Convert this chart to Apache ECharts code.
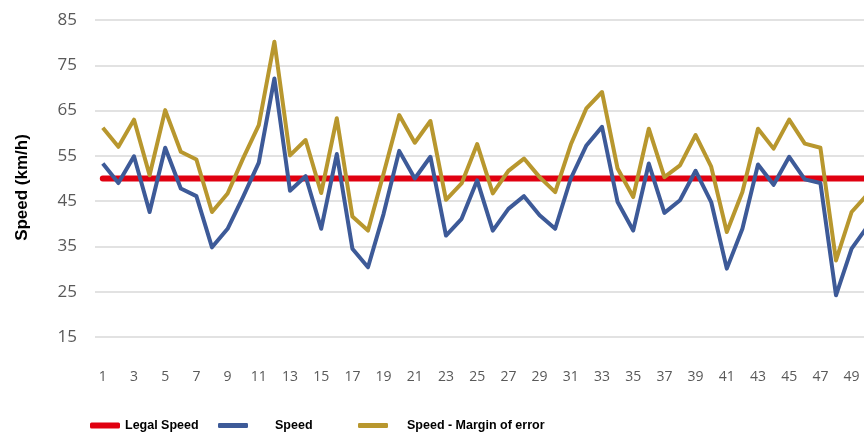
<!DOCTYPE html>
<html>
<head>
<meta charset="utf-8">
<script src="https://cdn.jsdelivr.net/npm/echarts@6/dist/echarts.min.js"></script>
<style>
  html, body { margin: 0; padding: 0; background: #fff; }
  #chart { width: 864px; height: 435px; }
</style>
</head>
<body>
<div id="chart"></div>
<script>
// observation number 1..50
const categories = ['1','2','3','4','5','6','7','8','9','10','11','12','13','14','15','16','17','18','19','20',
  '21','22','23','24','25','26','27','28','29','30','31','32','33','34','35','36','37','38','39','40',
  '41','42','43','44','45','46','47','48','49','50'];

const legalSpeed = [50,50,50,50,50,50,50,50,50,50,50,50,50,50,50,50,50,50,50,50,
  50,50,50,50,50,50,50,50,50,50,50,50,50,50,50,50,50,50,50,50,
  50,50,50,50,50,50,50,50,50,50];

const speed = [53.3,49.0,54.9,42.6,56.8,47.8,46.1,34.8,38.9,46.0,53.5,72.1,47.3,50.5,38.9,55.4,34.5,30.4,42.2,56.1,
  50.0,54.8,37.4,41.1,49.6,38.5,43.3,46.1,41.9,38.9,50.0,57.3,61.4,44.8,38.5,53.3,42.4,45.2,51.7,44.8,
  30.1,38.9,53.1,48.6,54.8,49.8,49.0,24.2,34.5,39.3];

const speedMargin = [61.2,57.0,63.0,50.7,65.1,55.9,54.2,42.6,46.7,54.5,61.8,80.2,55.1,58.5,46.8,63.3,41.6,38.5,51.1,64.0,
  57.9,62.7,45.3,48.9,57.6,46.7,51.7,54.4,50.3,47.0,57.5,65.5,69.1,52.2,45.9,61.0,50.3,52.9,59.6,52.6,
  38.2,47.0,61.0,56.6,63.0,57.7,56.8,31.9,42.6,46.4];

const yMin = 15, yMax = 85, yStep = 10;

const chart = echarts.init(document.getElementById('chart'));

const legendText = {
    fontFamily: '"Liberation Sans", Arial, sans-serif',
    fontWeight: 'bold',
    fontSize: 12.5,
    color: '#000'
};

const option = {
    backgroundColor: '#ffffff',
    animation: false,
    grid: {
        left: 95,
        top: 20,
        width: 780,
        height: 317,
        outerBoundsMode: 'none'
    },
    legend: [
        { left: 90, top: 419, padding: 0, data: ['Legal Speed'], icon: 'roundRect', itemWidth: 30, itemHeight: 6, textStyle: legendText },
        { left: 218, top: 419, padding: 0, data: ['Speed'], icon: 'roundRect', itemWidth: 30, itemHeight: 5, textStyle: Object.assign({}, legendText, { padding: [0, 0, 0, 22] }) },
        { left: 358, top: 419, padding: 0, data: ['Speed - Margin of error'], icon: 'roundRect', itemWidth: 30, itemHeight: 5, textStyle: Object.assign({}, legendText, { padding: [0, 0, 0, 14] }) }
    ],
    xAxis: {
        type: 'category',
        data: categories,
        boundaryGap: true,
        axisLine: { show: false },
        axisTick: { show: false },
        axisLabel: {
            interval: 1,
            margin: 33,
            color: '#595959',
            fontSize: 14,
            fontFamily: '"Open Sans", sans-serif'
        }
    },
    yAxis: {
        type: 'value',
        min: yMin,
        max: yMax,
        interval: yStep,
        name: 'Speed (km/h)',
        nameLocation: 'middle',
        nameGap: 64,
        nameTextStyle: {
            fontFamily: '"Liberation Sans", Arial, sans-serif',
            fontWeight: 'bold',
            fontSize: 17,
            color: '#000',
            padding: [0, 18, 0, 0]
        },
        axisLine: { show: false },
        axisTick: { show: false },
        axisLabel: {
            margin: 18,
            color: '#595959',
            fontSize: 17,
            fontFamily: '"Open Sans", sans-serif'
        },
        splitLine: { lineStyle: { color: '#d9d9d9', width: 1.5 } }
    },
    series: [
        {
            name: 'Legal Speed',
            type: 'line',
            data: legalSpeed,
            symbol: 'none',
            z: 3,
            lineStyle: { color: '#e00010', width: 6, cap: 'round' },
            itemStyle: { color: '#e00010' }
        },
        {
            name: 'Speed',
            type: 'line',
            data: speed,
            symbol: 'none',
            z: 4,
            lineStyle: { color: '#3d5a98', width: 4, join: 'round' },
            itemStyle: { color: '#3d5a98' }
        },
        {
            name: 'Speed - Margin of error',
            type: 'line',
            data: speedMargin,
            symbol: 'none',
            z: 5,
            lineStyle: { color: '#b8972e', width: 4, join: 'round' },
            itemStyle: { color: '#b8972e' }
        }
    ]
};

chart.setOption(option);
</script>
</body>
</html>
